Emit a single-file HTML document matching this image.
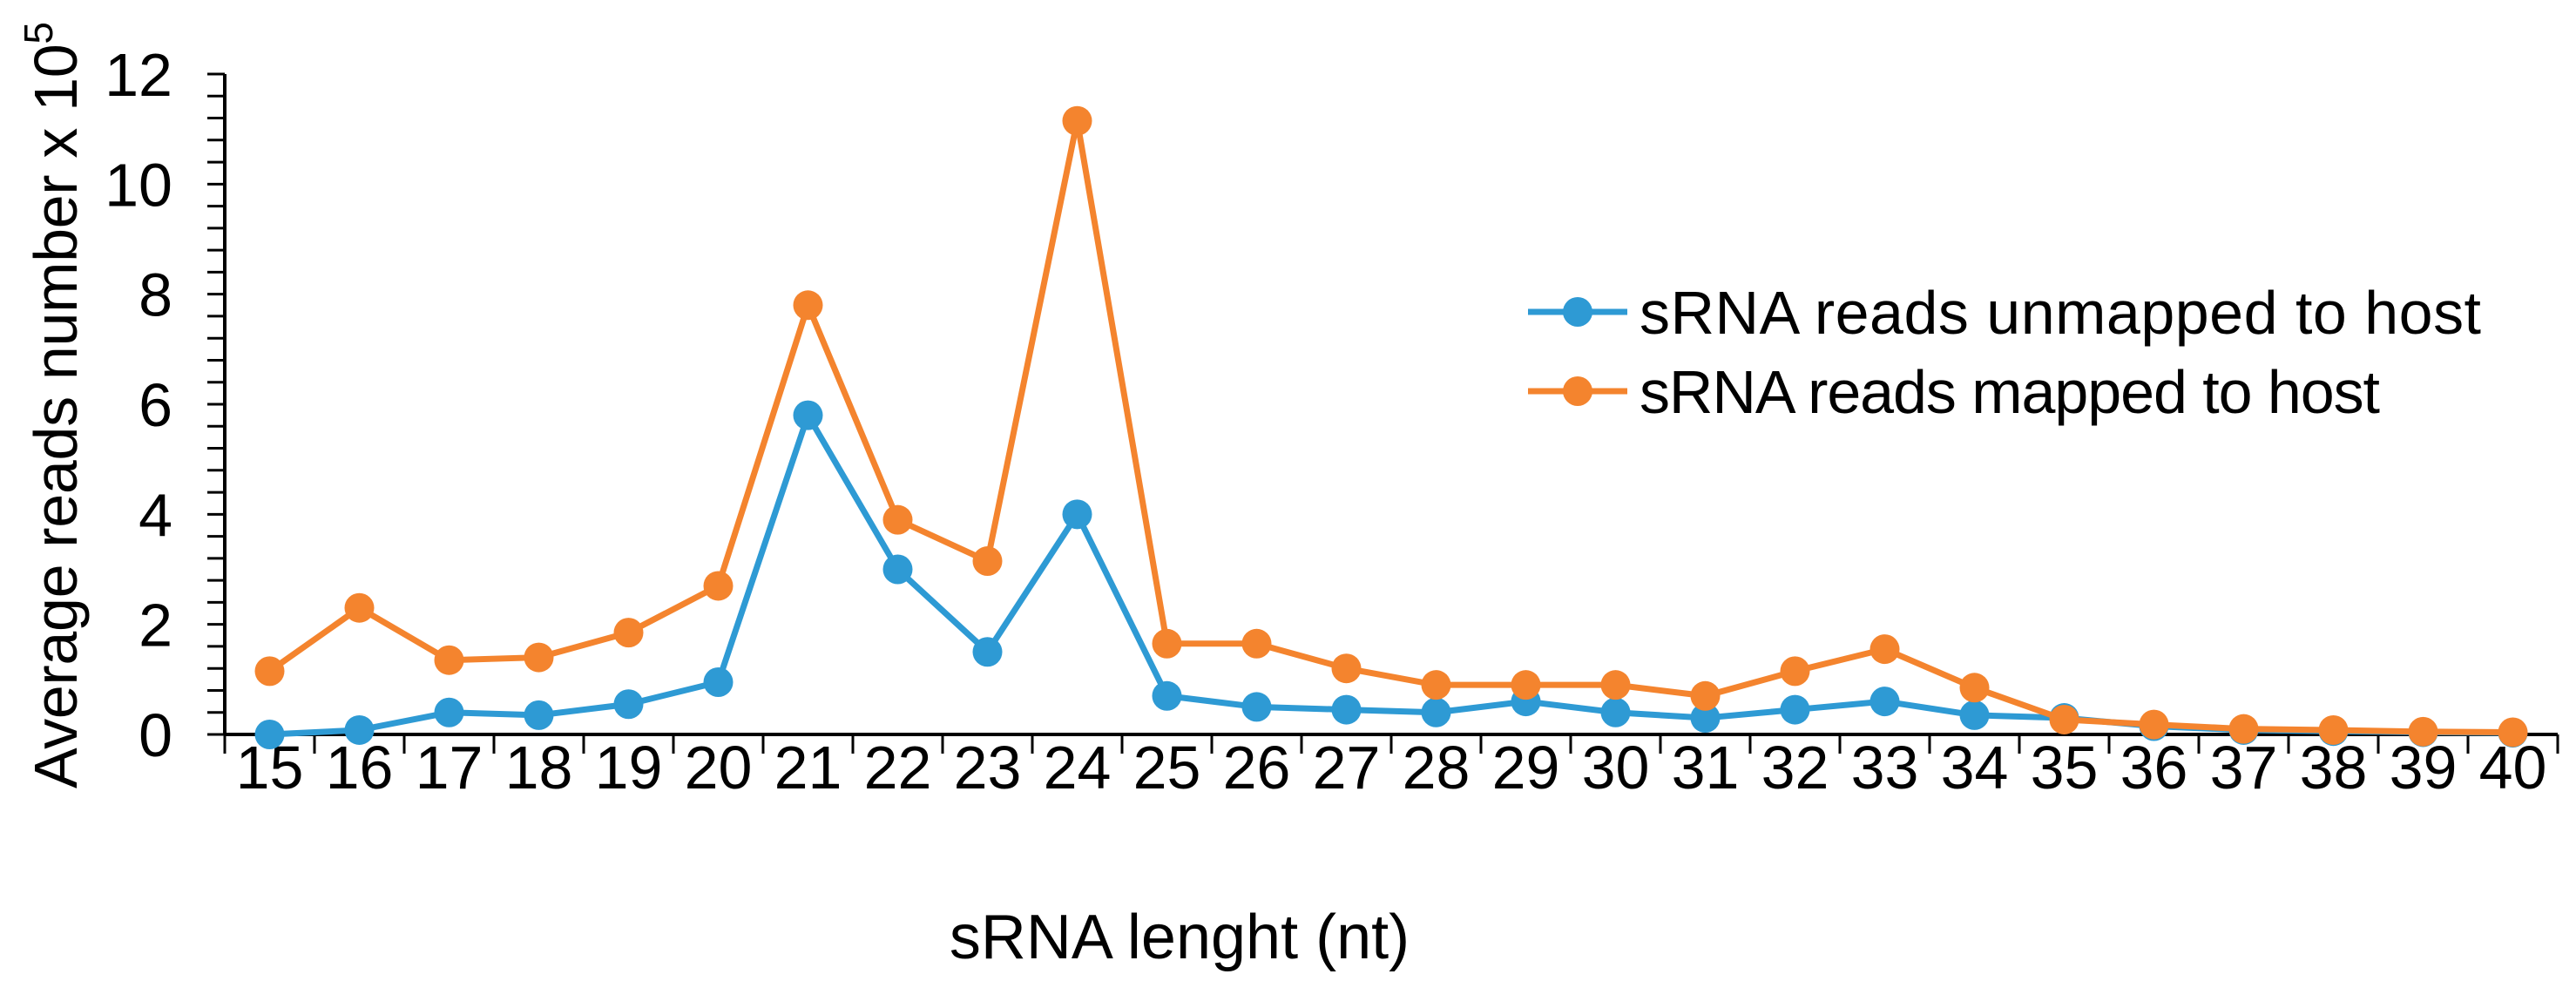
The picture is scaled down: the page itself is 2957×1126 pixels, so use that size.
<!DOCTYPE html>
<html><head><meta charset="utf-8"><style>
html,body{margin:0;padding:0;background:#fff;}
svg{display:block;font-family:"Liberation Sans",Arial,sans-serif;}
</style></head><body>
<svg id="chart" width="2957" height="1126" viewBox="0 0 2957 1126">
<g id="axes"></g><g id="series"></g>
<text x="1354" y="1100" font-size="72" text-anchor="middle" fill="#000">sRNA lenght (nt)</text>
<text transform="translate(88,465) rotate(-90)" font-size="70" text-anchor="middle" fill="#000" textLength="880">Average reads number x 10<tspan font-size="46" dy="-28">5</tspan></text>
<g>
<g>
<line x1="1754" y1="358" x2="1868" y2="358" stroke="#2E9AD4" stroke-width="7"/>
<circle cx="1811" cy="358" r="17" fill="#2E9AD4"/>
<text x="1882" y="383" font-size="70" textLength="966" fill="#000">sRNA reads unmapped to host</text>
</g>
<g>
<line x1="1754" y1="449" x2="1868" y2="449" stroke="#F4842E" stroke-width="7"/>
<circle cx="1811" cy="449" r="17" fill="#F4842E"/>
<text x="1882" y="474" font-size="70" textLength="850" fill="#000">sRNA reads mapped to host</text>
</g>
</g>
</svg>
<script>
const categories=[15,16,17,18,19,20,21,22,23,24,25,26,27,28,29,30,31,32,33,34,35,36,37,38,39,40];
const unmapped=[0,0.08,0.4,0.35,0.55,0.95,5.8,3.0,1.5,4.0,0.7,0.5,0.45,0.4,0.6,0.4,0.3,0.45,0.6,0.35,0.3,0.15,0.08,0.06,0.04,0.03];
const mapped=[1.15,2.3,1.35,1.4,1.85,2.7,7.8,3.9,3.15,11.15,1.65,1.65,1.2,0.9,0.9,0.9,0.7,1.15,1.55,0.85,0.27,0.18,0.1,0.08,0.05,0.04];
const yTicks=[0,2,4,6,8,10,12];
const NS="http://www.w3.org/2000/svg";
const X0=258,X1=2936,Y0=843,Y12=85;
const band=(X1-X0)/categories.length;
function xs(i){return X0+band*(i+0.5);}
function ys(v){return Y0-(v/12)*(Y0-Y12);}
function mk(tag,attrs,parent){const e=document.createElementNS(NS,tag);for(const k in attrs)e.setAttribute(k,attrs[k]);parent.appendChild(e);return e;}
const axes=document.getElementById('axes');
const ya=mk('line',{x1:X0,y1:Y12,x2:X0,y2:Y0,stroke:'#000','stroke-width':4},axes);


const xa=mk('line',{x1:X0,y1:Y0,x2:X1,y2:Y0,stroke:'#000','stroke-width':4},axes);


for(let v=0;v<=12.001;v+=0.4){mk('line',{x1:X0-20,y1:ys(v),x2:X0,y2:ys(v),stroke:'#000','stroke-width':3},axes);}
yTicks.forEach(v=>{const t=mk('text',{x:198,y:ys(v)+25,'font-size':70,'text-anchor':'end',fill:'#000'},axes);t.textContent=v;

});
for(let i=0;i<=categories.length;i++){const x=X0+band*i;mk('line',{x1:x,y1:Y0,x2:x,y2:Y0+22,stroke:'#000','stroke-width':3},axes);}
categories.forEach((c,i)=>{const t=mk('text',{x:xs(i),y:905,'font-size':70,'text-anchor':'middle',fill:'#000'},axes);t.textContent=c;

});
const ser=document.getElementById('series');
function draw(vals,color,name){
 const g=mk('g',{},ser);
 
 
 mk('polyline',{points:vals.map((v,i)=>xs(i)+','+ys(v)).join(' '),fill:'none',stroke:color,'stroke-width':7},g);
 vals.forEach((v,i)=>{const c=mk('circle',{cx:xs(i),cy:ys(v),r:17,fill:color},g);
 
 });
}
draw(unmapped,'#2E9AD4','series-unmapped');
draw(mapped,'#F4842E','series-mapped');
</script>
</body></html>
